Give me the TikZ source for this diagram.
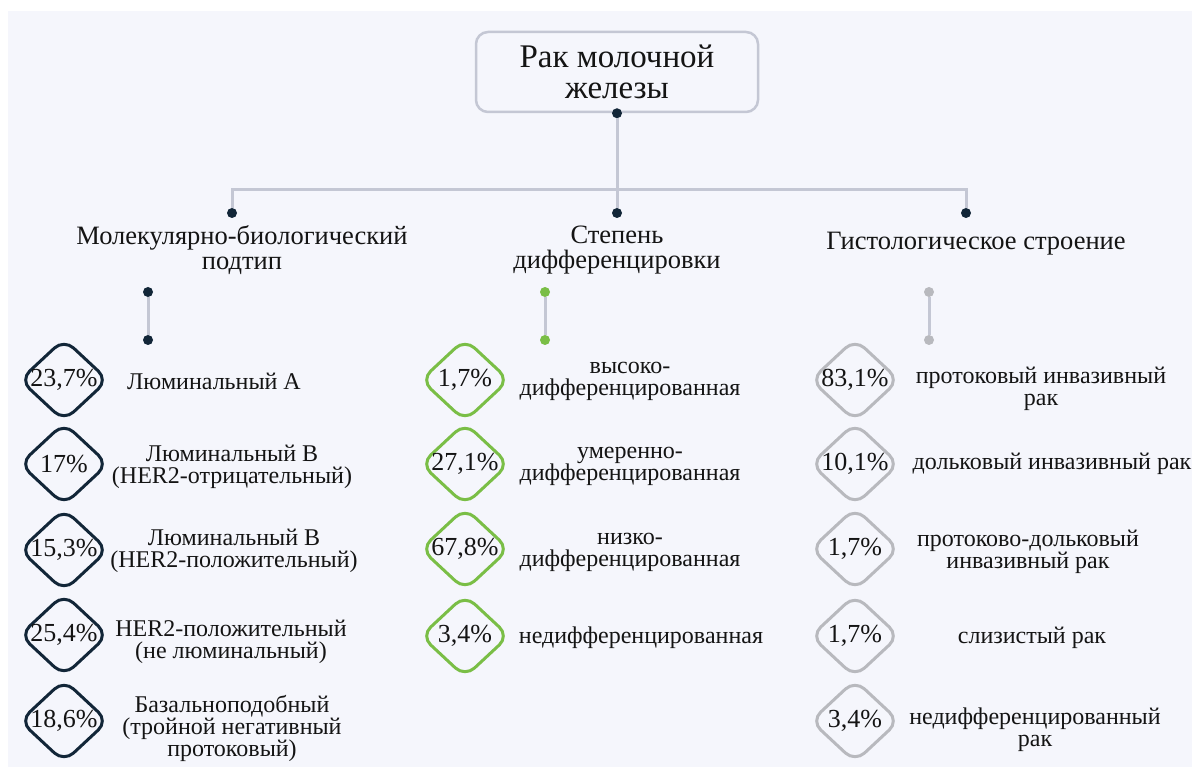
\documentclass[tikz,border=0pt]{standalone}
\usepackage{fontspec}
\setmainfont{Liberation Serif}
\usetikzlibrary{shapes.geometric}
\definecolor{bgc}{RGB}{245,246,252}
\definecolor{linegray}{RGB}{196,199,212}
\definecolor{navy}{RGB}{18,38,56}
\definecolor{grn}{RGB}{122,190,70}
\definecolor{dgray}{RGB}{184,185,190}
\definecolor{txt}{RGB}{20,20,20}
\tikzset{
  rootbox/.style={draw=linegray, line width=2.5pt, rounded corners=12pt, fill=bgc,
    minimum width=282pt, minimum height=80pt, align=center, text=txt,
    font=\fontsize{33}{31}\selectfont},
  hdr/.style={align=center, text=txt, inner sep=0pt, font=\fontsize{26.5}{25}\selectfont},
  lbl/.style={align=center, text=txt, inner sep=0pt, font=\fontsize{24}{22}\selectfont},
  pct/.style={diamond, draw=#1, line width=3pt, rounded corners=13pt, inner sep=0pt,
    minimum width=89pt, minimum height=83pt, text=txt, font=\fontsize{26}{26}\selectfont},
  dot/.style={circle, fill=#1, inner sep=0pt, minimum size=10pt},
  conn/.style={draw=linegray, line width=3pt}
}
\begin{document}
\begin{tikzpicture}[x=1pt,y=-1pt]
\useasboundingbox (0,0) rectangle (1192,767);
\fill[white] (0,0) rectangle (1192,767);
\fill[bgc] (8,11) rectangle (1192,767);

% root
\node[rootbox] (root) at (617,72) {Рак молочной\\железы};
\node[dot=navy] (d0) at (root.south) {};
\node[dot=navy] (dL) at (232,213) {};
\node[dot=navy] (dM) at (617,213) {};
\node[dot=navy] (dR) at (966,213) {};
\coordinate (hb) at (617,190);
\draw[conn] (d0) -- (dM);
\draw[conn] (dL) -- (dL |- hb) -- (dR |- hb) -- (dR);

% headers
\node[hdr] (hL) at (242,250) {Молекулярно-биологический\\подтип};
\node[hdr] (hM) at (617,250) {Степень\\дифференцировки};
\node[hdr] (hR) at (976,244) {Гистологическое строение};

% small connectors
\node[dot=navy] (sL1) at (148,292) {};
\node[dot=navy] (sL2) at (148,340) {};
\draw[conn] (sL1) -- (sL2);
\node[dot=grn] (sM1) at (545,292) {};
\node[dot=grn] (sM2) at (545,340) {};
\draw[conn] (sM1) -- (sM2);
\node[dot=dgray] (sR1) at (929,292) {};
\node[dot=dgray] (sR2) at (929,340) {};
\draw[conn] (sR1) -- (sR2);

% left column
\node[pct=navy] (pL1) at (64,380) {\makebox[0pt]{23,7\%}};
\node[pct=navy] (pL2) at (64,464) {\makebox[0pt]{17\%}};
\node[pct=navy] (pL3) at (64,550) {\makebox[0pt]{15,3\%}};
\node[pct=navy] (pL4) at (64,635) {\makebox[0pt]{25,4\%}};
\node[pct=navy] (pL5) at (64,721) {\makebox[0pt]{18,6\%}};
\node[lbl] (tL1) at (214,381) {Люминальный А};
\node[lbl] (tL2) at (232,467) {Люминальный В\\(HER2-отрицательный)};
\node[lbl] (tL3) at (234,551) {Люминальный В\\(HER2-положительный)};
\node[lbl] (tL4) at (231,642) {HER2-положительный\\(не люминальный)};
\node[lbl] (tL5) at (232,728) {Базальноподобный\\(тройной негативный\\протоковый)};

% middle column
\node[pct=grn] (pM1) at (465,380) {\makebox[0pt]{1,7\%}};
\node[pct=grn] (pM2) at (465,464) {\makebox[0pt]{27,1\%}};
\node[pct=grn] (pM3) at (465,549) {\makebox[0pt]{67,8\%}};
\node[pct=grn] (pM4) at (465,636) {\makebox[0pt]{3,4\%}};
\node[lbl] (tM1) at (630,381) {высоко-\\дифференцированная};
\node[lbl] (tM2) at (630,466) {умеренно-\\дифференцированная};
\node[lbl] (tM3) at (630,552) {низко-\\дифференцированная};
\node[lbl] (tM4) at (641,638) {недифференцированная};

% right column
\node[pct=dgray] (pR1) at (855,380) {\makebox[0pt]{83,1\%}};
\node[pct=dgray] (pR2) at (855,464) {\makebox[0pt]{10,1\%}};
\node[pct=dgray] (pR3) at (855,549) {\makebox[0pt]{1,7\%}};
\node[pct=dgray] (pR4) at (855,636) {\makebox[0pt]{1,7\%}};
\node[pct=dgray] (pR5) at (855,721) {\makebox[0pt]{3,4\%}};
\node[lbl] (tR1) at (1041,389) {протоковый инвазивный\\рак};
\node[lbl] (tR2) at (1052,464) {дольковый инвазивный рак};
\node[lbl] (tR3) at (1028,552) {протоково-дольковый\\инвазивный рак};
\node[lbl] (tR4) at (1032,638) {слизистый рак};
\node[lbl] (tR5) at (1035,730) {недифференцированный\\рак};
\end{tikzpicture}
\end{document}
